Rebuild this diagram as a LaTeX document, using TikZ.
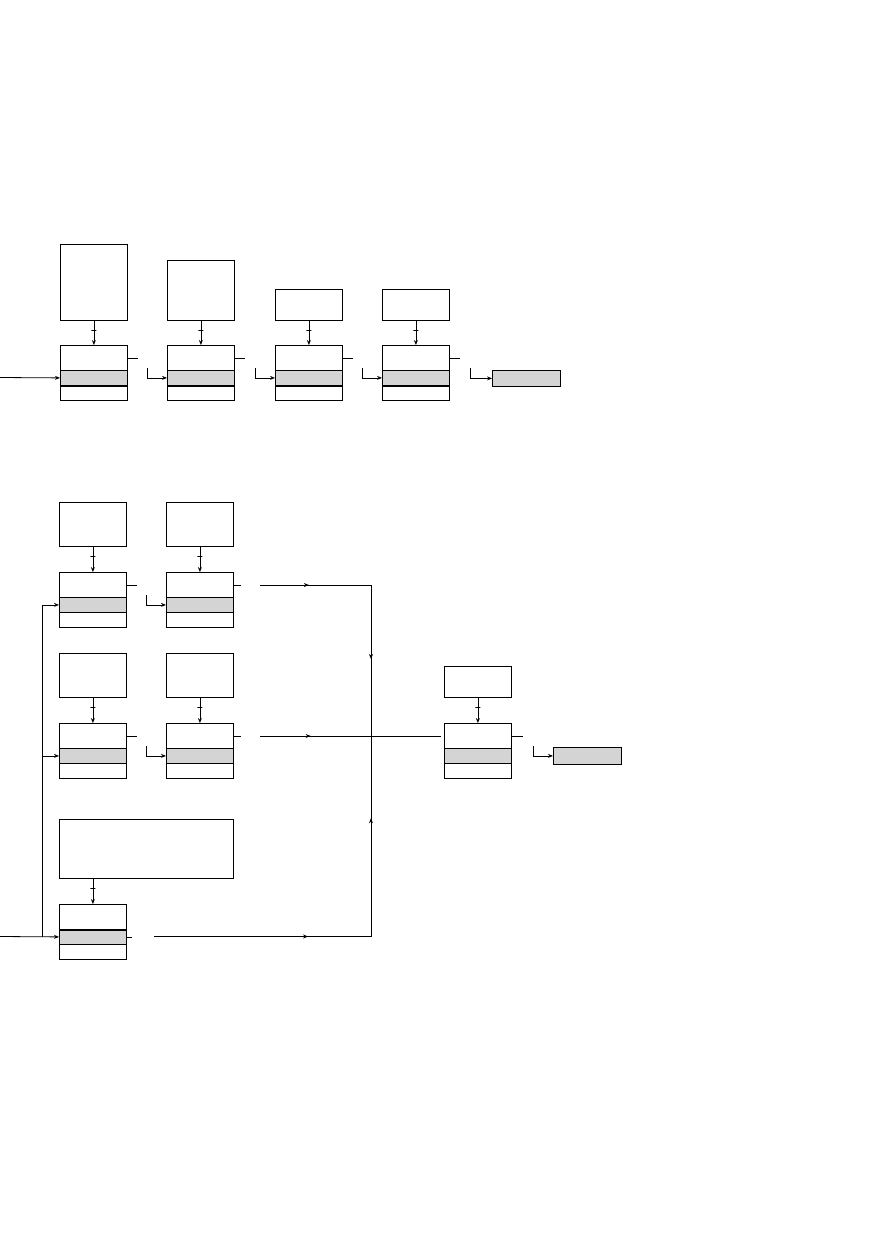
\documentclass[tikz,border=0pt]{standalone}
\usetikzlibrary{arrows.meta,decorations.markings}
\definecolor{band}{gray}{0.83}
\tikzset{
  stage/.style={draw, anchor=north west, minimum width=67pt, minimum height=55pt, inner sep=0pt},
  feed/.style={draw, anchor=north west, minimum width=67pt, inner sep=0pt},
  outbox/.style={draw, fill=band, anchor=north west, minimum width=68pt, minimum height=16pt, inner sep=0pt},
  notch/.style={draw, minimum width=5pt, minimum height=0pt, inner sep=0pt},
  flow/.style={-{Stealth[length=5pt,width=4pt]}},
  flowmark/.style={postaction={decorate}, decoration={markings,
      mark=at position #1 with {\arrow{Stealth[length=5pt,width=4pt]}}}},
}
\begin{document}
\begin{tikzpicture}[x=1pt, y=-1pt, line width=0.8pt]
    \useasboundingbox (0,0) rectangle (893,1259);
    % upper chain
    \node[feed, minimum height=76pt] (t1) at (60,244) {};
    \node[feed, minimum height=60pt] (t2) at (167,260) {};
    \node[feed, minimum height=31pt] (t3) at (275,289) {};
    \node[feed, minimum height=31pt] (t4) at (382,289) {};
    \node[stage] (c1) at (60,345) {};
    \node[stage] (c2) at (167,345) {};
    \node[stage] (c3) at (275,345) {};
    \node[stage] (c4) at (382,345) {};
    \node[outbox] (out1) at (492,370) {};
    % lower network
    \node[feed, minimum height=44pt] (u1) at (59,502) {};
    \node[feed, minimum height=44pt] (u2) at (166,502) {};
    \node[stage] (d1) at (59,572) {};
    \node[stage] (d2) at (166,572) {};
    \node[feed, minimum height=44pt] (v1) at (59,653) {};
    \node[feed, minimum height=44pt] (v2) at (166,653) {};
    \node[stage] (e1) at (59,723) {};
    \node[stage] (e2) at (166,723) {};
    \node[feed, minimum width=174pt, minimum height=59pt] (w) at (59,819) {};
    \node[stage] (f) at (59,904) {};
    \node[feed, minimum height=31pt] (x) at (444,666) {};
    \node[stage] (g) at (444,723) {};
    \node[outbox, minimum height=17pt] (out2) at (553,747) {};
    % shaded bands
    \foreach \n in {c1,c2,c3,c4,d1,d2,e1,e2,f,g}
        \draw[fill=band] ([yshift=15pt]\n.south west) rectangle ([yshift=30pt]\n.south east);
    \foreach \n in {c1,c2,c3,c4}
        \draw[line width=2pt] ([yshift=15pt]\n.south west) -- ([yshift=15pt]\n.south east);
    \draw[line width=2pt] ([yshift=30pt]f.south west) -- ([yshift=30pt]f.south east);
    % feeds from above
    \foreach \a/\b in {t1/c1,t2/c2,t3/c3,t4/c4,u1/d1,u2/d2,v1/e1,v2/e2,x/g}
        \draw[flow] (\a) -- node[notch, pos=0.4] {} (\b);
    \draw[flow] (f.north |- w.south) -- node[notch, pos=0.4] {} (f.north);
    % upper chain links
    \coordinate (in1) at (0,377.5);
    \draw[flow] (in1) -- ([yshift=-5pt]c1.west);
    \foreach \a/\b in {c1/c2,c2/c3,c3/c4} {
        \draw ([yshift=-13pt]\a.north east) -- ++(10pt,0);
        \draw[flow] ([xshift=-20pt,yshift=5pt]\b.west) |- ([yshift=-5pt]\b.west);
    }
    \draw ([yshift=-13pt]c4.north east) -- ++(10pt,0);
    \draw[flow] ([xshift=-22pt,yshift=10pt]out1.west) |- (out1.west);
    % lower network links
    \coordinate (in2) at (0,936.5);
    \coordinate (j) at (42,936.5);
    \draw[flow] (in2) -- ([yshift=-5pt]f.west);
    \draw[flow] (j) |- ([yshift=-5pt]d1.west);
    \draw[flow] (j) |- ([yshift=-5pt]e1.west);
    \draw ([yshift=-13pt]d1.north east) -- ++(10pt,0);
    \draw[flow] ([xshift=-20pt,yshift=5pt]d2.west) |- ([yshift=-5pt]d2.west);
    \draw ([yshift=-13pt]e1.north east) -- ++(10pt,0);
    \draw[flow] ([xshift=-20pt,yshift=5pt]e2.west) |- ([yshift=-5pt]e2.west);
    \draw ([yshift=-13pt]d2.north east) -- ++(7pt,0);
    \draw ([yshift=-13pt]e2.north east) -- ++(7pt,0);
    \draw ([yshift=-5pt]f.east) -- ++(5pt,0);
    \coordinate (s2) at (260,585);
    \coordinate (s3) at (260,736);
    \coordinate (s4) at (154,936.5);
    \coordinate (k1) at (371,585);
    \coordinate (k2) at (371,736);
    \coordinate (k3) at (371,936.5);
    \coordinate (ge) at (441,736);
    \draw[flowmark=0.44] (s2) -- (k1);
    \draw[flowmark=0.49] (k1) -- (k2);
    \draw[flowmark=0.71] (s4) -- (k3);
    \draw[flowmark=0.59] (k3) -- (k2);
    \draw[flowmark=0.28] (s3) -- (ge);
    \draw ([yshift=-13pt]g.north east) -- ++(11pt,0);
    \draw[flow] ([xshift=-20pt,yshift=10pt]out2.west) |- (out2.west);
\end{tikzpicture}
\end{document}
